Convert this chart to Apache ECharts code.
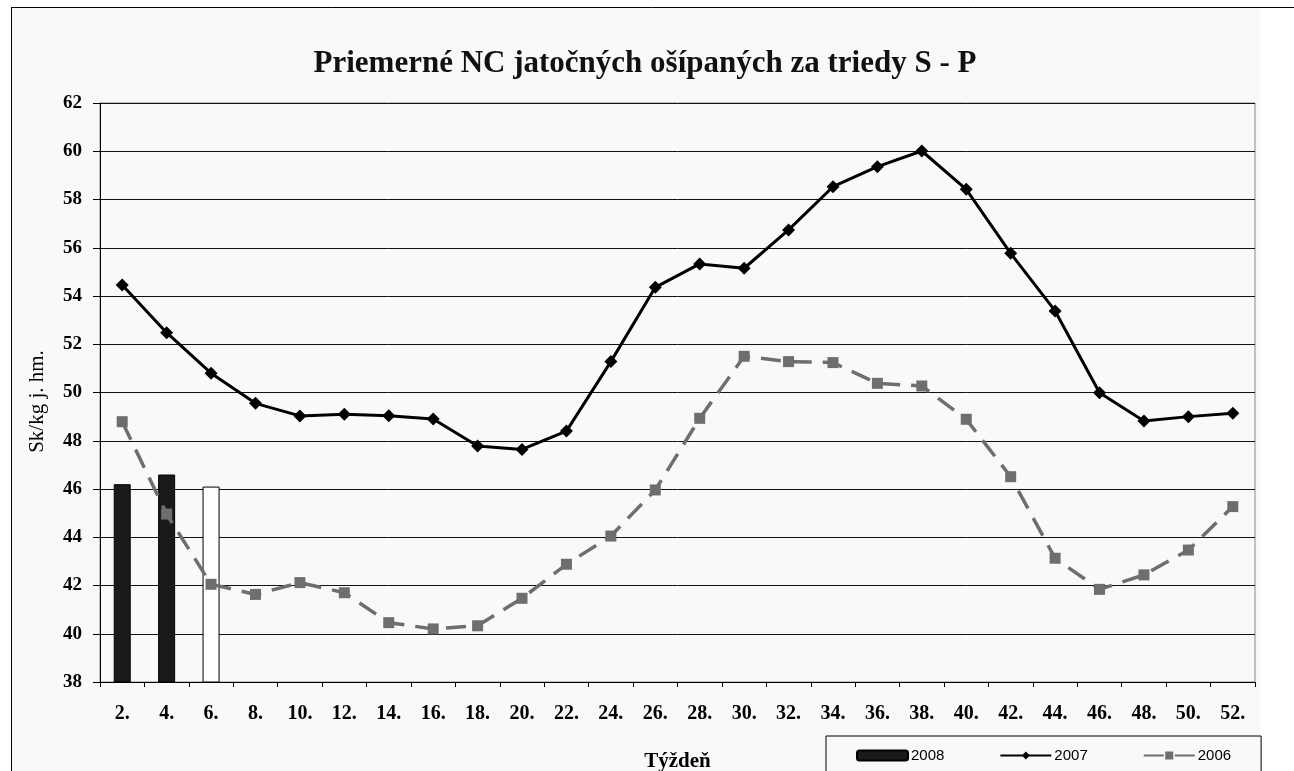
<!DOCTYPE html>
<html>
<head>
<meta charset="utf-8">
<script src="https://cdn.jsdelivr.net/npm/echarts@6/dist/echarts.min.js"></script>
<style>
html,body{margin:0;padding:0;background:#ffffff;}
#chart{width:1294px;height:771px;}
</style>
</head>
<body>
<div id="chart"></div>
<script>
const weeks = ['2.','4.','6.','8.','10.','12.','14.','16.','18.','20.','22.','24.','26.','28.','30.','32.','34.','36.','38.','40.','42.','44.','46.','48.','50.','52.'];
const s2008 = [46.2, 46.6, 46.1];
const s2007 = [54.46, 52.48, 50.8, 49.55, 49.03, 49.1, 49.04, 48.9, 47.78, 47.64, 48.4, 51.28, 54.36, 55.33, 55.15, 56.74, 58.53, 59.36, 60.01, 58.42, 55.77, 53.38, 49.99, 48.82, 49.0, 49.14];
const s2006 = [48.79, 44.96, 42.05, 41.63, 42.12, 41.7, 40.46, 40.2, 40.33, 41.47, 42.88, 44.05, 45.96, 48.93, 51.5, 51.28, 51.24, 50.38, 50.27, 48.89, 46.51, 43.13, 41.84, 42.44, 43.47, 45.27];
const yTicks = {min: 38, max: 62, interval: 2};

const serif = "'Liberation Serif', 'Times New Roman', serif";
const chart = echarts.init(document.getElementById('chart'), null, {renderer: 'canvas'});

const barData = s2008.map((v, i) => i === 2
  ? {value: v, itemStyle: {color: '#ffffff', borderColor: '#000000', borderWidth: 1}}
  : v);

chart.setOption({
  animation: false,
  backgroundColor: '#ffffff',
  graphic: [
    {type: 'rect', z: -10, silent: true, shape: {x: 11, y: 7, width: 1249, height: 770}, style: {fill: '#f9f9f9'}},
    {type: 'line', z: -5, silent: true, shape: {x1: 11, y1: 7.5, x2: 1294, y2: 7.5}, style: {stroke: '#000', lineWidth: 1}},
    {type: 'line', z: -5, silent: true, shape: {x1: 11.5, y1: 7, x2: 11.5, y2: 771}, style: {stroke: '#000', lineWidth: 1}}
  ],
  title: {
    text: 'Priemerné NC jatočných ošípaných za triedy S - P',
    left: 640, top: 43, textAlign: 'center',
    textStyle: {fontFamily: serif, fontSize: 31, fontWeight: 'bold', color: '#111'}
  },
  legend: {
    left: 826, top: 736,
    padding: [12, 30, 20, 30],
    borderColor: '#000', borderWidth: 1,
    backgroundColor: '#f9f9f9',
    itemWidth: 51, itemHeight: 10, itemGap: 55,
    textStyle: {fontFamily: "'Liberation Sans Narrow', 'Liberation Sans', sans-serif", fontSize: 15, color: '#000', padding: [0, 0, 0, -2]},
    data: ['2008', '2007', '2006']
  },
  grid: {left: 100, right: 39, top: 103, bottom: 89, outerBoundsMode: 'none', containLabel: false, show: true, borderColor: '#888', borderWidth: 1, backgroundColor: 'transparent'},
  xAxis: {
    type: 'category', data: weeks, boundaryGap: true,
    name: 'Týždeň', nameLocation: 'middle', nameGap: 69,
    nameTextStyle: {fontFamily: serif, fontSize: 21, fontWeight: 'bold', color: '#000'},
    axisLine: {lineStyle: {color: '#000', width: 1}},
    axisTick: {show: true, length: 5, lineStyle: {color: '#000'}},
    axisLabel: {fontFamily: serif, fontSize: 20, fontWeight: 'bold', color: '#000', margin: 22},
    splitLine: {show: false}
  },
  yAxis: {
    type: 'value', min: yTicks.min, max: yTicks.max, interval: yTicks.interval,
    name: 'Sk/kg j. hm.', nameLocation: 'middle', nameGap: 52, nameRotate: 90,
    nameTextStyle: {fontFamily: serif, fontSize: 21, color: '#000', padding: [0, 18, 0, 0]},
    axisLine: {show: true, lineStyle: {color: '#000', width: 1}},
    axisTick: {show: true, length: 7, lineStyle: {color: '#000'}},
    axisLabel: {fontFamily: serif, fontSize: 19, fontWeight: 'bold', color: '#000', margin: 18},
    splitLine: {show: true, lineStyle: {color: '#111', width: 1}}
  },
  series: [
    {
      name: '2008', type: 'bar', data: barData, barWidth: 17,
      itemStyle: {color: '#1a1a1a', borderColor: '#000', borderWidth: 1}
    },
    {
      name: '2007', type: 'line', data: s2007,
      symbol: 'diamond', symbolSize: 13,
      itemStyle: {color: '#000'},
      lineStyle: {color: '#000', width: 3}
    },
    {
      name: '2006', type: 'line', data: s2006,
      symbol: 'rect', symbolSize: 11,
      itemStyle: {color: '#6e6e6e'},
      lineStyle: {color: '#6e6e6e', width: 3.5, type: [20, 11]}
    }
  ]
});
</script>
</body>
</html>
